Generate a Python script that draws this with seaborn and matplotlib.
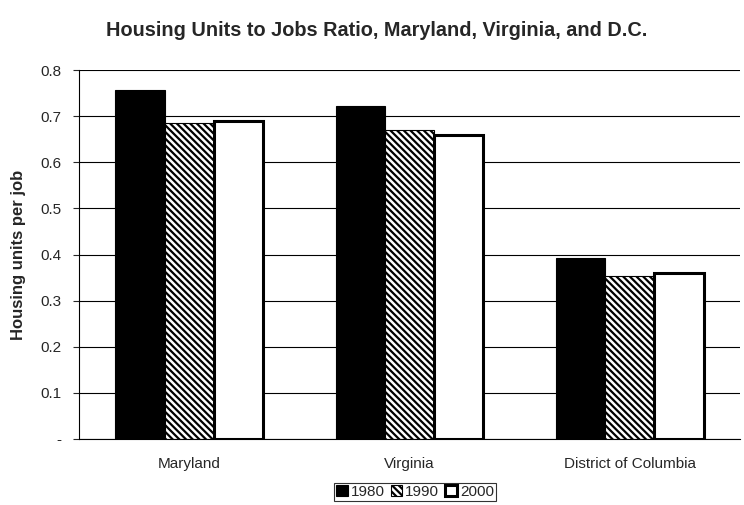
import matplotlib
matplotlib.use("Agg")
import matplotlib.pyplot as plt
import seaborn as sns
import pandas as pd

categories = ["Maryland", "Virginia", "District of Columbia"]
years = ["1980", "1990", "2000"]
values_1980 = [0.757, 0.722, 0.392]
values_1990 = [0.685, 0.670, 0.353]
values_2000 = [0.689, 0.658, 0.360]
ytick_vals = [0.0, 0.1, 0.2, 0.3, 0.4, 0.5, 0.6, 0.7, 0.8]
ytick_labels = ["-", "0.1", "0.2", "0.3", "0.4", "0.5", "0.6", "0.7", "0.8"]

rows = []
for yr, vals in zip(years, [values_1980, values_1990, values_2000]):
    for c, v in zip(categories, vals):
        rows.append({"State": c, "Year": yr, "Ratio": v})
df = pd.DataFrame(rows)

sns.set_style("white")
plt.rcParams["font.family"] = ["Liberation Sans", "DejaVu Sans"]
plt.rcParams["hatch.linewidth"] = 1.6

fig = plt.figure(figsize=(7.44, 5.05), dpi=100)
ax = fig.add_axes([79/744, 1 - 439/505, (740-79)/744, (439-70)/505])

palette = {"1980": "black", "1990": "white", "2000": "white"}
sns.barplot(data=df, x="State", y="Ratio", hue="Year", order=categories,
            hue_order=years, palette=palette, width=0.67, ax=ax,
            edgecolor="black", linewidth=1.0, legend=False, saturation=1)

hatches = [None, "\\\\\\\\\\", None]
lws = [0.8, 0.8, 2.2]
for cont, h, lw in zip(ax.containers, hatches, lws):
    for p in cont.patches:
        if h:
            p.set_hatch(h)
        p.set_linewidth(lw)

ax.set_ylim(0, 0.8)
ax.set_yticks(ytick_vals)
ax.set_yticklabels(ytick_labels, fontsize=11)
ax.tick_params(axis="x", labelsize=11, length=0, pad=13)
ax.tick_params(axis="y", length=4.5, pad=8, direction="out", left=True, width=0.8)
ax.yaxis.grid(True, color="black", linewidth=0.8)
ax.set_axisbelow(True)
for s in ["top", "right"]:
    ax.spines[s].set_visible(False)
for s in ["left", "bottom"]:
    ax.spines[s].set_color("black")
    ax.spines[s].set_linewidth(0.8)
ax.set_xlabel("")
ax.set_ylabel("Housing units per job", fontsize=12, fontweight="bold")
ax.yaxis.set_label_coords(-0.080, 0.5)

fig.suptitle("Housing Units to Jobs Ratio, Maryland, Virginia, and D.C.",
             fontsize=14.3, fontweight="bold", x=377/744, y=1 - 31/505, va="center")

handles = [cont.patches[0] for cont in ax.containers]
leg = fig.legend(handles, years, loc="center", bbox_to_anchor=(415/744, 1 - 492/505),
                 ncol=3, fontsize=11, frameon=True, fancybox=False,
                 handlelength=0.75, handleheight=0.75, handletextpad=0.2,
                 columnspacing=0.4, borderpad=0.15, borderaxespad=0)
leg.get_frame().set_edgecolor("black")
leg.get_frame().set_linewidth(0.8)

fig.savefig("out.png", dpi=100)
